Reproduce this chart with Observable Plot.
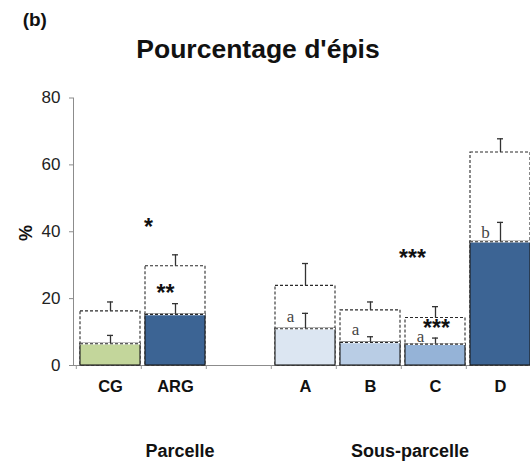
<!DOCTYPE html>
<html>
<head>
<meta charset="utf-8">
<script src="https://cdn.jsdelivr.net/npm/d3@7"></script>
<script src="https://cdn.jsdelivr.net/npm/@observablehq/plot@0.6"></script>
<style>
  html, body { margin: 0; padding: 0; background: #fff; overflow: hidden; }
  #wrap { position: relative; width: 530px; height: 461px; font-family: "Liberation Sans", Arial, sans-serif; color: #111; }
  .t { position: absolute; line-height: 1; white-space: nowrap; font-weight: bold; }
  #chart { position: absolute; left: 0; top: 80px; }
</style>
</head>
<body>
<div id="wrap">
  <div class="t" id="panel" style="left:22.7px; top:10.4px; font-size:19px;">(b)</div>
  <div class="t" id="title" style="left:258px; top:35.9px; font-size:26.5px; transform:translateX(-50%);">Pourcentage d'épis</div>
  <div class="t" id="ylab" style="left:26px; top:233px; font-size:18px; transform:translate(-50%,-50%) rotate(-90deg);">%</div>
  <div id="chart"></div>
  <div class="t" style="left:180px; top:441.5px; font-size:18px; transform:translateX(-50%);">Parcelle</div>
  <div class="t" style="left:410px; top:441.5px; font-size:18px; transform:translateX(-50%);">Sous-parcelle</div>
</div>
<script>
// ---- data ----
const slots = ["CG", "ARG", "gap", "A", "B", "C", "D"];
const categories = ["CG", "ARG", "A", "B", "C", "D"];
const solidValues = [6.5, 15.3, 11.0, 6.9, 6.4, 37.0];      // filled bars (%)
const solidErrTop = [9.0, 18.5, 15.6, 8.6, 8.2, 42.8];      // upper end of error bar
const totalValues = [16.2, 29.7, 23.8, 16.5, 14.2, 63.7];   // dashed bars (%)
const totalErrTop = [19.0, 33.1, 30.5, 19.0, 17.6, 67.8];
const letterCats = ["A", "B", "C", "D"];
const letterText = ["a", "a", "a", "b"];
const letterY = [14.6, 10.7, 8.7, 39.9];
const starText = ["*", "**", "***", "***"];
const starCats = ["ARG", "ARG", "C", "C"];
const starY = [42.9, 23.4, 33.9, 12.8];
const yTicks = [0, 20, 40, 60, 80];

// ---- styles ----
const palette = ["#c3d69b", "#3c6494", "#ffffff", "#dce6f2", "#b9cde5", "#95b3d7", "#3c6494"];

const rows = categories.map((c, i) => ({
  cat: c, solid: solidValues[i], solidErr: solidErrTop[i], total: totalValues[i], totalErr: totalErrTop[i]
}));
const letters = letterCats.map((c, i) => ({cat: c, y: letterY[i], t: letterText[i]}));
const stars = starCats.map((c, i) => ({cat: c, y: starY[i], t: starText[i]}));

const ink = "#2a2a2a";
const plot = Plot.plot({
  width: 530,
  height: 330,
  marginLeft: 73,
  marginRight: 0,
  marginTop: 17.5,
  marginBottom: 45,
  style: {fontFamily: "Liberation Sans, Arial, sans-serif", background: "transparent", overflow: "visible", color: "#222"},
  x: {domain: slots, range: [74.7, 534.7], paddingInner: 0.082, paddingOuter: 0.041, axis: null},
  y: {domain: [0, 80], axis: null},
  color: {domain: slots, range: palette},
  marks: [
    Plot.frame({anchor: "left", stroke: "#8c8c8c"}),
    Plot.frame({anchor: "bottom", stroke: "#8c8c8c"}),
    Plot.axisY({ticks: yTicks, tickSize: 4, tickPadding: 9, fontSize: 17, stroke: "#8c8c8c", fill: "#222", label: null}),
    Plot.axisX({tickSize: 4, dx: -34.2, tickFormat: () => "", stroke: "#9a9a9a", label: null}),
    Plot.axisX({tickSize: 0, tickPadding: 15, fontSize: 16.5, fontWeight: "bold", fill: "#111",
      tickFormat: d => (d === "gap" ? "" : d), label: null}),
    // dashed total bars
    Plot.barY(rows, {x: "cat", y: "total", fill: "white", stroke: ink, strokeWidth: 1.1, strokeDasharray: "3,2"}),
    // filled bars
    Plot.barY(rows, {x: "cat", y: "solid", fill: "cat", stroke: "#1a1a1a", strokeWidth: 1.1}),
    Plot.tickY(rows, {x: "cat", y: "solid", stroke: "white", strokeWidth: 1.6}),
    Plot.tickY(rows, {x: "cat", y: "solid", stroke: ink, strokeWidth: 1.1, strokeDasharray: "3,2"}),
    // error bars
    Plot.ruleX(rows, {x: "cat", y1: "solid", y2: "solidErr", stroke: "#333", strokeWidth: 1.3}),
    Plot.tickY(rows, {x: "cat", y: "solidErr", stroke: "#333", strokeWidth: 1.3, insetLeft: 27, insetRight: 27}),
    Plot.ruleX(rows, {x: "cat", y1: "total", y2: "totalErr", stroke: "#333", strokeWidth: 1.3}),
    Plot.tickY(rows, {x: "cat", y: "totalErr", stroke: "#333", strokeWidth: 1.3, insetLeft: 27, insetRight: 27}),
    // letters
    Plot.text(letters, {x: "cat", y: "y", text: "t", dx: -15, fontSize: 17, fontFamily: "Liberation Serif, Times New Roman, serif", fill: "#444"}),
    // significance stars
    Plot.text(stars.slice(0, 1), {x: "cat", y: "y", text: "t", dx: -27, dy: 6, fontSize: 23, fontWeight: "bold", fill: "#111"}),
    Plot.text(stars.slice(1, 2), {x: "cat", y: "y", text: "t", dx: -10, dy: 6, fontSize: 23, fontWeight: "bold", fill: "#111"}),
    Plot.text(stars.slice(2, 3), {x: "cat", y: "y", text: "t", dx: -23, dy: 6, fontSize: 23, fontWeight: "bold", fill: "#111"}),
    Plot.text(stars.slice(3, 4), {x: "cat", y: "y", text: "t", dx: 1, dy: 6, fontSize: 23, fontWeight: "bold", fill: "#111"})
  ]
});
document.getElementById("chart").appendChild(plot);
</script>
</body>
</html>
